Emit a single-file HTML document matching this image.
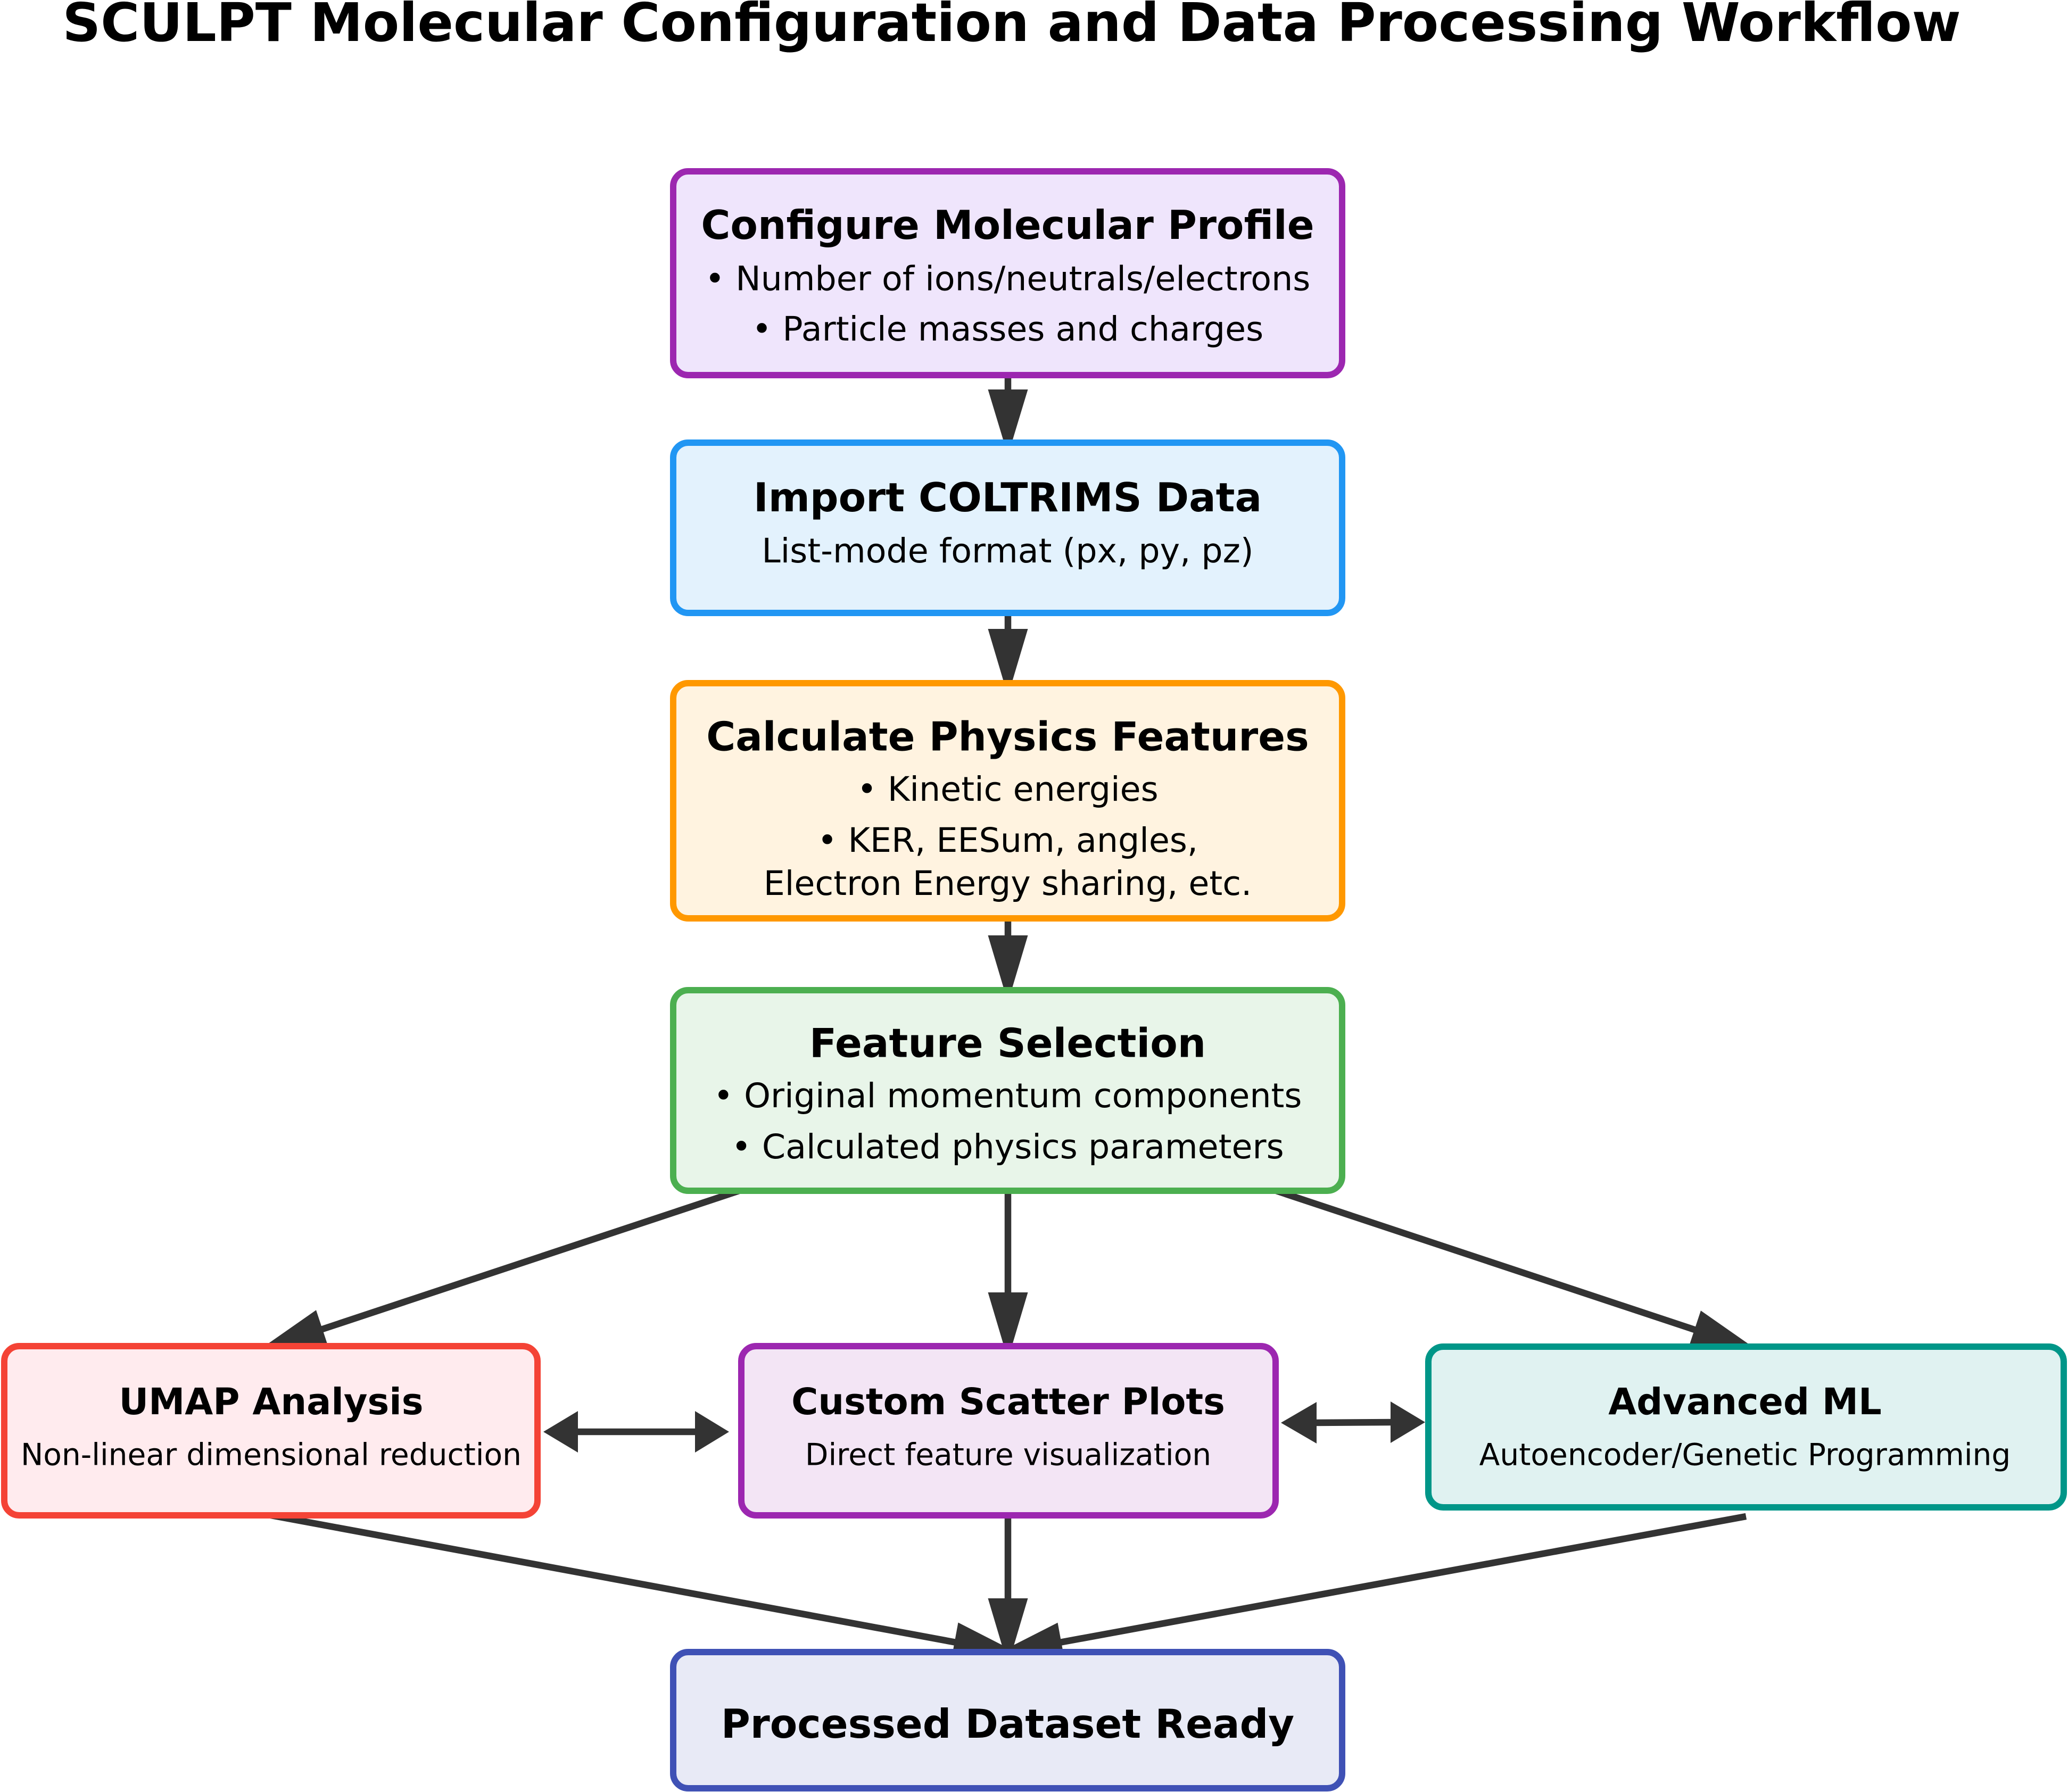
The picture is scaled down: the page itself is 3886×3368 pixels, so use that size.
<!DOCTYPE html>
<html>
<head>
<meta charset="utf-8">
<style>
  html, body { margin: 0; padding: 0; background: #ffffff; }
  svg { display: block; }
  text { font-family: "DejaVu Sans", "Liberation Sans", sans-serif; fill: #000; }
  .t { font-weight: bold; font-size: 75px; }
  .b { font-size: 63.4px; }
  .ts { font-weight: bold; font-size: 68.5px; }
  .bs { font-size: 56.6px; }
</style>
</head>
<body>
<svg width="3886" height="3368" viewBox="0 0 3886 3368" xmlns="http://www.w3.org/2000/svg">
  <rect x="0" y="0" width="3886" height="3368" fill="#ffffff"/>

  <!-- Title -->
  <text x="1901" y="77" text-anchor="middle" style="font-weight:bold;font-size:99.7px;">SCULPT Molecular Configuration and Data Processing Workflow</text>

  <!-- Edges (drawn beneath boxes) -->
  <g stroke="#333333" stroke-width="12.5" fill="none" stroke-linecap="butt">
    <line x1="1894" y1="705" x2="1894" y2="736"/>
    <line x1="1894" y1="1152" x2="1894" y2="1186"/>
    <line x1="1894" y1="1726" x2="1894" y2="1762"/>
    <line x1="1894" y1="2238" x2="1894" y2="2433"/>
    <line x1="1894" y1="2848" x2="1894" y2="3008"/>
    <line x1="1389" y1="2238" x2="603" y2="2499"/>
    <line x1="2398" y1="2238" x2="3187" y2="2500"/>
    <line x1="509" y1="2848" x2="1797" y2="3087"/>
    <line x1="3281" y1="2850" x2="1991" y2="3087"/>
  </g>
  <g fill="#333333">
    <polygon points="1856.5,732 1931.5,732 1894,856"/>
    <polygon points="1856.5,1182 1931.5,1182 1894,1308"/>
    <polygon points="1856.5,1758 1931.5,1758 1894,1884"/>
    <polygon points="1856.5,2429 1931.5,2429 1894,2555"/>
    <polygon points="1856.5,3004 1931.5,3004 1894,3130"/>
    <polygon points="617.6,2533.5 594.0,2462.3 486.2,2537.6"/>
    <polygon points="3172.4,2534.5 3196.0,2463.3 3303.8,2538.6"/>
    <polygon points="1786.9,3123.3 1800.5,3049.5 1917.6,3109.4"/>
    <polygon points="2001.1,3123.5 1987.5,3049.7 1870.4,3109.3"/>
  </g>

  <!-- Boxes -->
  <g stroke-width="12">
    <rect x="1265" y="322" width="1257" height="383" rx="28" ry="28" fill="#EFE5FC" stroke="#9C27B0"/>
    <rect x="1265" y="832" width="1257" height="320" rx="28" ry="28" fill="#E3F2FD" stroke="#2196F3"/>
    <rect x="1265" y="1284" width="1257" height="442" rx="28" ry="28" fill="#FFF3E0" stroke="#FF9800"/>
    <rect x="1265" y="1861" width="1257" height="377" rx="28" ry="28" fill="#E8F5E9" stroke="#4CAF50"/>
    <rect x="8" y="2530" width="1002" height="318" rx="28" ry="28" fill="#FFEBEE" stroke="#F44336"/>
    <rect x="1393" y="2530" width="1004" height="318" rx="28" ry="28" fill="#F3E5F5" stroke="#9C27B0"/>
    <rect x="2684" y="2531" width="1194" height="302" rx="28" ry="28" fill="#E0F2F1" stroke="#009688"/>
    <rect x="1265" y="3105" width="1257" height="256" rx="28" ry="28" fill="#E8EAF6" stroke="#3F51B5"/>
  </g>

  <!-- Bidirectional edges -->
  <g stroke="#333333" stroke-width="12.5">
    <line x1="1080" y1="2691" x2="1312" y2="2691"/>
    <line x1="2468" y1="2674" x2="2619" y2="2673"/>
  </g>
  <g fill="#333333">
    <polygon points="1021,2691 1086,2652 1086,2730"/>
    <polygon points="1370,2691 1306,2652 1306,2730"/>
    <polygon points="2407,2674 2474,2635 2474,2713"/>
    <polygon points="2678,2673 2613,2634 2613,2712"/>
  </g>

  <!-- Node text -->
  <g text-anchor="middle">
    <text class="t" x="1893.5" y="449">Configure Molecular Profile</text>
    <text class="b" x="1893.5" y="545.5">• Number of ions/neutrals/electrons</text>
    <text class="b" x="1893.5" y="640">• Particle masses and charges</text>

    <text class="t" x="1893.5" y="961">Import COLTRIMS Data</text>
    <text class="b" x="1893.5" y="1057">List-mode format (px, py, pz)</text>

    <text class="t" x="1893.5" y="1410.5">Calculate Physics Features</text>
    <text class="b" x="1893.5" y="1505">• Kinetic energies</text>
    <text class="b" x="1893.5" y="1601">• KER, EESum, angles,</text>
    <text class="b" x="1893.5" y="1682">Electron Energy sharing, etc.</text>

    <text class="t" x="1893.5" y="1986.5">Feature Selection</text>
    <text class="b" x="1893.5" y="2081">• Original momentum components</text>
    <text class="b" x="1893.5" y="2177">• Calculated physics parameters</text>

    <text class="ts" x="509.5" y="2658">UMAP Analysis</text>
    <text class="bs" x="509.5" y="2753.5">Non-linear dimensional reduction</text>

    <text class="ts" x="1894.5" y="2658">Custom Scatter Plots</text>
    <text class="bs" x="1894.5" y="2753.5">Direct feature visualization</text>

    <text class="ts" x="3279" y="2658">Advanced ML</text>
    <text class="bs" x="3279" y="2753.5">Autoencoder/Genetic Programming</text>

    <text class="t" x="1893.5" y="3266">Processed Dataset Ready</text>
  </g>
</svg>
</body>
</html>
